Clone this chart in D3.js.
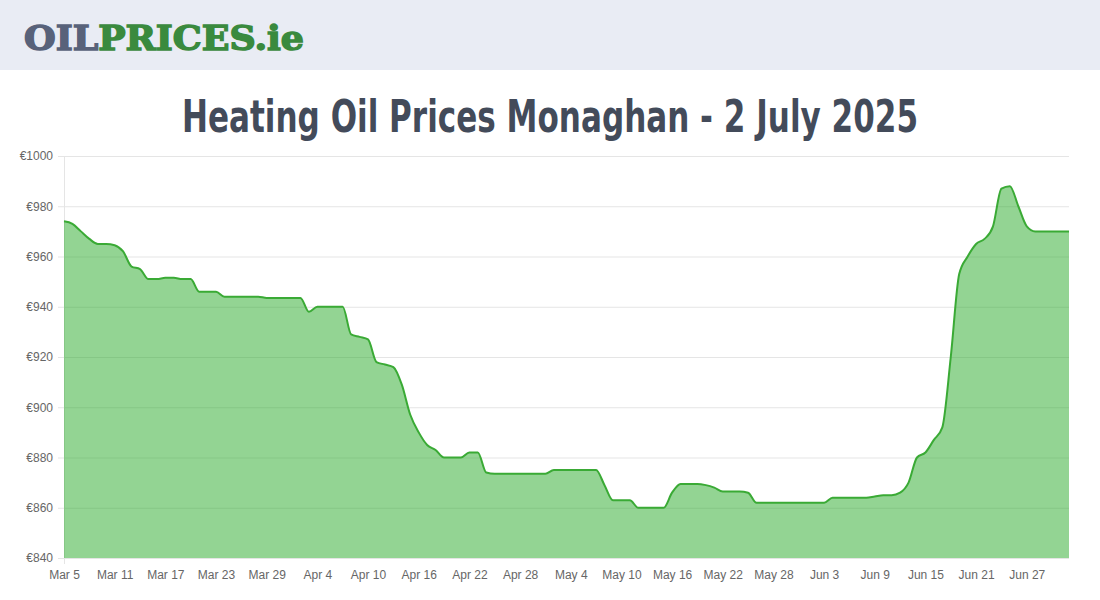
<!DOCTYPE html>
<html>
<head>
<meta charset="utf-8">
<script src="https://cdn.jsdelivr.net/npm/d3@7"></script>
<style>
  body { margin: 0; background: #fff; }
  svg { display: block; }
</style>
</head>
<body>
<svg id="chart" width="1100" height="600"></svg>
<script>
// daily prices from Mar 5 2025 to Jul 2 2025
var startDate = new Date(2025, 2, 5);
var prices = [
    974, 973, 970, 967, 965, 965, 964.5, 962, 956, 955,
    951, 951, 951.5, 951.5, 951, 951, 946, 946, 946, 944,
    944, 944, 944, 944, 943.5, 943.5, 943.5, 943.5, 943.5, 938,
    940, 940, 940, 940, 929, 928, 927, 918, 917, 916,
    909, 897, 890, 885, 883, 880, 880, 880, 882, 882,
    874, 873.5, 873.5, 873.5, 873.5, 873.5, 873.5, 873.5, 875, 875,
    875, 875, 875, 875, 869, 863, 863, 863, 860, 860,
    860, 860, 866, 869.5, 869.5, 869.5, 869, 868, 866.5, 866.5,
    866.5, 866, 862, 862, 862, 862, 862, 862, 862, 862,
    862, 864, 864, 864, 864, 864, 864.5, 865, 865, 866,
    870, 880, 882, 887, 892, 920, 953, 960, 965, 967,
    972, 987, 988, 980, 972, 970, 970, 970, 970, 970
];
var yTicks = [840, 860, 880, 900, 920, 940, 960, 980, 1000];

var data = prices.map(function (v, i) {
    return { date: d3.timeDay.offset(startDate, i), value: v };
});

var svg = d3.select('#chart');

// header
svg.append('rect').attr('width', 1100).attr('height', 70).attr('fill', '#e9ecf4');
var logo = svg.append('text')
    .attr('x', 24).attr('y', 50)
    .style('font-family', '"DejaVu Serif", serif')
    .style('font-weight', 'bold')
    .style('font-size', '34px')
    .attr('stroke-width', 1.5)
    .attr('textLength', 280)
    .attr('lengthAdjust', 'spacingAndGlyphs');
logo.append('tspan').attr('fill', '#58627a').attr('stroke', '#58627a').text('OIL');
logo.append('tspan').attr('fill', '#3a8a3e').attr('stroke', '#3a8a3e').text('PRICES.ie');

svg.append('text')
    .attr('x', 550).attr('y', 132)
    .attr('text-anchor', 'middle')
    .attr('fill', '#434b5a')
    .style('font-family', '"Liberation Sans Narrow", "DejaVu Sans Condensed", sans-serif')
    .style('font-weight', 'bold')
    .style('font-size', '44px')
    .attr('textLength', 736)
    .attr('lengthAdjust', 'spacingAndGlyphs')
    .text('Heating Oil Prices Monaghan - 2 July 2025');

var plotLeft = 64, plotRight = 1069, plotTop = 156, plotBottom = 558;

var x = d3.scaleTime()
    .domain([startDate, data[data.length - 1].date])
    .range([plotLeft, plotRight]);
var y = d3.scaleLinear().domain([840, 1000]).range([plotBottom, plotTop]);

// grid
svg.append('g').selectAll('line')
    .data(yTicks).enter().append('line')
    .attr('x1', plotLeft - 6).attr('x2', plotRight)
    .attr('y1', function (d) { return y(d) + 0.5; })
    .attr('y2', function (d) { return y(d) + 0.5; })
    .attr('stroke', '#e5e5e5');
svg.append('line')
    .attr('x1', plotLeft + 0.5).attr('x2', plotLeft + 0.5)
    .attr('y1', plotTop).attr('y2', plotBottom + 6)
    .attr('stroke', '#e5e5e5');

var curve = d3.curveMonotoneX;
svg.append('path')
    .datum(data)
    .attr('fill', 'rgba(40,170,40,0.5)')
    .attr('d', d3.area().curve(curve)
        .x(function (d) { return x(d.date); })
        .y0(plotBottom)
        .y1(function (d) { return y(d.value); }));
svg.append('path')
    .datum(data)
    .attr('fill', 'none')
    .attr('stroke', '#3aaa35')
    .attr('stroke-width', 2)
    .attr('d', d3.line().curve(curve)
        .x(function (d) { return x(d.date); })
        .y(function (d) { return y(d.value); }));

// axes
var yAxis = svg.append('g')
    .attr('transform', 'translate(' + (plotLeft - 8) + ',0)')
    .call(d3.axisLeft(y).tickValues(yTicks).tickSize(0)
        .tickFormat(function (d) { return '€' + d; }));
yAxis.select('.domain').remove();

var xTicks = d3.range(0, 115, 6).map(function (i) { return d3.timeDay.offset(startDate, i); });
var xAxis = svg.append('g')
    .attr('transform', 'translate(0,' + (plotBottom + 9) + ')')
    .call(d3.axisBottom(x).tickValues(xTicks).tickSize(0)
        .tickFormat(d3.timeFormat('%b %-d')));
xAxis.select('.domain').remove();

svg.selectAll('.tick text')
    .attr('fill', '#666')
    .style('font-family', '"Liberation Sans", Arial, sans-serif')
    .style('font-size', '12px');
</script>
</body>
</html>
